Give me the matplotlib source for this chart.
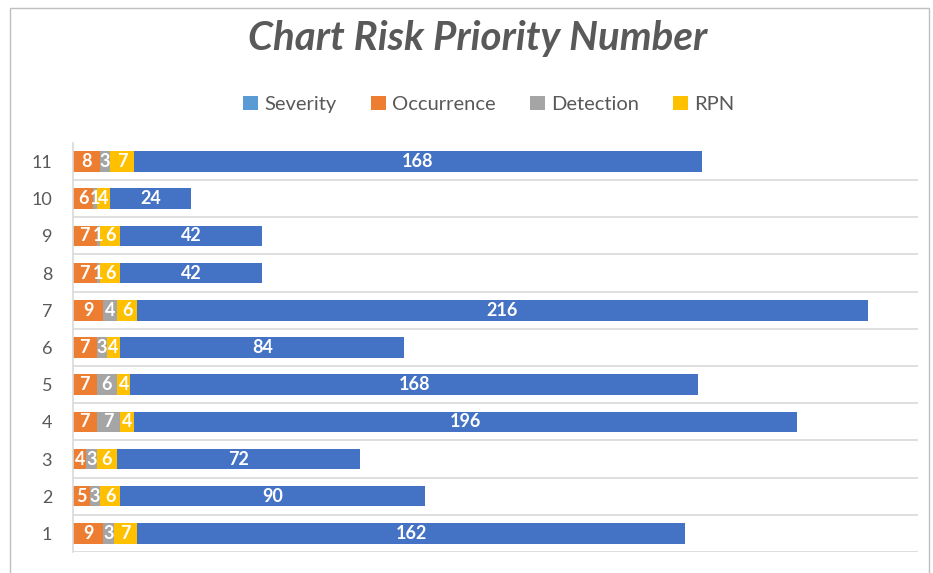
import matplotlib
matplotlib.use("Agg")
import matplotlib.pyplot as plt
from matplotlib.patches import Patch, Rectangle

plt.rcParams['font.family'] = ['Lato', 'DejaVu Sans']

items = ['1', '2', '3', '4', '5', '6', '7', '8', '9', '10', '11']
occurrence = [9, 5, 4, 7, 7, 7, 9, 7, 7, 6, 8]
detection = [3, 3, 3, 7, 6, 3, 4, 1, 1, 1, 3]
rpn = [7, 6, 6, 4, 4, 4, 6, 6, 6, 4, 7]
score = [162, 90, 72, 196, 168, 84, 216, 42, 42, 24, 168]

legend_names = ['Severity', 'Occurrence', 'Detection', 'RPN']
legend_colors = ['#5B9BD5', '#ED7D31', '#A5A5A5', '#FFC000']

series = [occurrence, detection, rpn, score]
colors = ['#ED7D31', '#A5A5A5', '#FFC000', '#4472C4']

fig = plt.figure(figsize=(9.33, 5.73), dpi=100)
ax = fig.add_axes([0.0782, 0.0366, 0.906, 0.714])

ypos = list(range(len(items)))
left = [0] * len(items)
for vals, col in zip(series, colors):
    bars = ax.barh(ypos, vals, left=left, height=0.55, color=col, edgecolor='none')
    ax.bar_label(bars, labels=[str(v) for v in vals], label_type='center',
                 color='white', fontsize=13, fontweight='bold')
    left = [a + b for a, b in zip(left, vals)]

ax.set_xlim(0, 250)
ax.set_ylim(-0.5, len(items) - 0.5)
ax.set_yticks(ypos)
ax.set_yticklabels(items, color='#595959', fontsize=13)
ax.tick_params(axis='y', length=0, pad=15)
ax.set_xticks([])

# category gridlines between bars
for k in range(len(items)):
    ax.axhline(k - 0.5, color='#D9D9D9', lw=1.2, zorder=0)

for s in ['top', 'right', 'bottom']:
    ax.spines[s].set_visible(False)
ax.spines['left'].set_color('#D9D9D9')
ax.spines['left'].set_linewidth(1.2)

fig.text(0.512, 0.933, 'Chart Risk Priority Number', ha='center', va='center',
         fontsize=29, fontweight='bold', fontstyle='italic', color='#595959')

handles = [Patch(facecolor=c, edgecolor='none') for c in legend_colors]
fig.legend(handles, legend_names, loc='center', bbox_to_anchor=(0.524, 0.818),
           ncol=4, frameon=False, fontsize=14.5, labelcolor='#595959',
           handlelength=0.75, handleheight=0.75, handletextpad=0.3, columnspacing=1.7)

fig.patches.append(Rectangle((0.011, -0.01), 0.985, 0.996, transform=fig.transFigure,
                             fill=False, edgecolor='#BFBFBF', lw=1))

fig.savefig('out.png', dpi=100)
